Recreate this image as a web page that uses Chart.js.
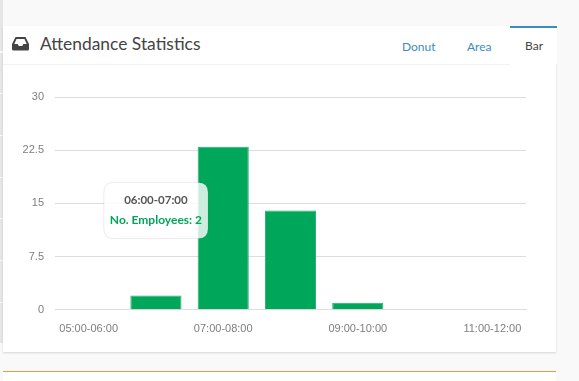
<!DOCTYPE html>
<html>
<head>
<meta charset="utf-8">
<script src="https://cdn.jsdelivr.net/npm/chart.js@4"></script>
<style>
html, body { margin: 0; padding: 0; width: 579px; height: 381px; overflow: hidden; background: #f9f9f9; font-family: Lato, sans-serif; }
.strip { position: absolute; left: 0; top: 0; width: 3px; height: 345px; background: repeating-linear-gradient(to bottom, #e6e6e6 0, #e6e6e6 40.5px, #fafafa 40.5px, #fafafa 41.7px); background-position: 0 11px; }
.box { position: absolute; left: 3px; top: 26px; width: 553px; height: 326px; background: #fff; box-shadow: 0 1px 2px rgba(0,0,0,0.15); }
.head { position: absolute; left: 0; top: 0; width: 507px; height: 38px; border-bottom: 1px solid #f2f2f2; }
.head svg { position: absolute; left: 9px; top: 10px; }
.title { position: absolute; left: 37px; top: 5.5px; font-size: 17.4px; line-height: 24px; color: #444; }
.tab { position: absolute; top: 13px; font-size: 12px; line-height: 16px; color: #3c8dbc; }
.active { position: absolute; left: 507px; top: 0; width: 47px; height: 36px; border-top: 2px solid #3c8dbc; background: #fff; }
.active span { position: absolute; left: 15px; top: 10px; font-size: 12px; line-height: 16px; color: #444; }
#wrap { position: absolute; left: 0; top: 39px; width: 553px; height: 276px; }
.next { position: absolute; left: 3px; top: 371px; width: 553px; height: 20px; background: #fff; border-top: 1px solid #e0a03c; }
</style>
</head>
<body>
<div class="strip"></div>
<div class="box">
  <div class="head">
    <svg width="17" height="15" viewBox="0 0 17 15"><path fill="#444" fill-rule="evenodd" d="M3.5 1h10L17 8v5a1.5 1.5 0 0 1-1.5 1.5h-14A1.5 1.5 0 0 1 0 13V8zM4.5 3 2.3 8h3.4l1 2h3.6l1-2h3.4l-2.2-5z"/></svg>
    <div class="title">Attendance Statistics</div>
    <div class="tab" style="left:399px">Donut</div>
    <div class="tab" style="left:464px">Area</div>
  </div>
  <div class="active"><span>Bar</span></div>
  <div id="wrap"><canvas id="attendanceChart"></canvas></div>
</div>
<div class="next"></div>
<script>
const categories = ["05:00-06:00", "06:00-07:00", "07:00-08:00", "08:00-09:00", "09:00-10:00", "10:00-11:00", "11:00-12:00"];
const employees = [0, 2, 23, 14, 1, 0, 0];
const seriesLabel = "No. Employees";
const activeIndex = 1;

// centre the tooltip on the bar's x, part way up the axis
Chart.Tooltip.positioners.fixedMid = function (items) {
    if (!items.length) return false;
    return { x: items[0].element.x, y: this.chart.scales.y.getPixelForValue(14) };
};

const attendanceChart = new Chart(document.getElementById("attendanceChart"), {
    type: "bar",
    data: {
        labels: categories,
        datasets: [{
            label: seriesLabel,
            data: employees,
            backgroundColor: "#00a65a",
            borderColor: "#22b070",
            borderWidth: 1,
            barPercentage: 0.76,
            categoryPercentage: 1
        }]
    },
    options: {
        responsive: true,
        maintainAspectRatio: false,
        animation: false,
        layout: { padding: { top: 32, right: 30, bottom: 0, left: 0 } },
        plugins: {
            legend: { display: false },
            tooltip: {
                position: "fixedMid",
                xAlign: "center",
                yAlign: "center",
                caretSize: 0,
                cornerRadius: 10,
                displayColors: false,
                backgroundColor: "rgba(255,255,255,0.8)",
                borderColor: "rgba(0,0,0,0.08)",
                borderWidth: 1,
                padding: { x: 6, y: 11 },
                titleColor: "#555",
                titleFont: { family: "Lato", size: 11.5, weight: "bold" },
                titleAlign: "center",
                titleMarginBottom: 6,
                bodyColor: "#00a65a",
                bodyFont: { family: "Lato", size: 12, weight: "bold" }
            }
        },
        scales: {
            x: {
                grid: { display: false },
                border: { color: "#ddd" },
                ticks: {
                    color: "#7e7e7e",
                    font: { family: "Liberation Sans", size: 11 },
                    maxRotation: 0,
                    maxTicksLimit: 4,
                    padding: 5
                }
            },
            y: {
                min: 0,
                max: 30,
                afterFit: function (scale) { scale.width = 52; },
                grid: { color: "#ddd", drawTicks: false },
                border: { display: false },
                ticks: {
                    stepSize: 7.5,
                    color: "#7e7e7e",
                    font: { family: "Liberation Sans", size: 11 },
                    padding: 11
                }
            }
        }
    }
});

attendanceChart.tooltip.setActiveElements([{ datasetIndex: 0, index: activeIndex }], { x: 0, y: 0 });
attendanceChart.update();
</script>
</body>
</html>
